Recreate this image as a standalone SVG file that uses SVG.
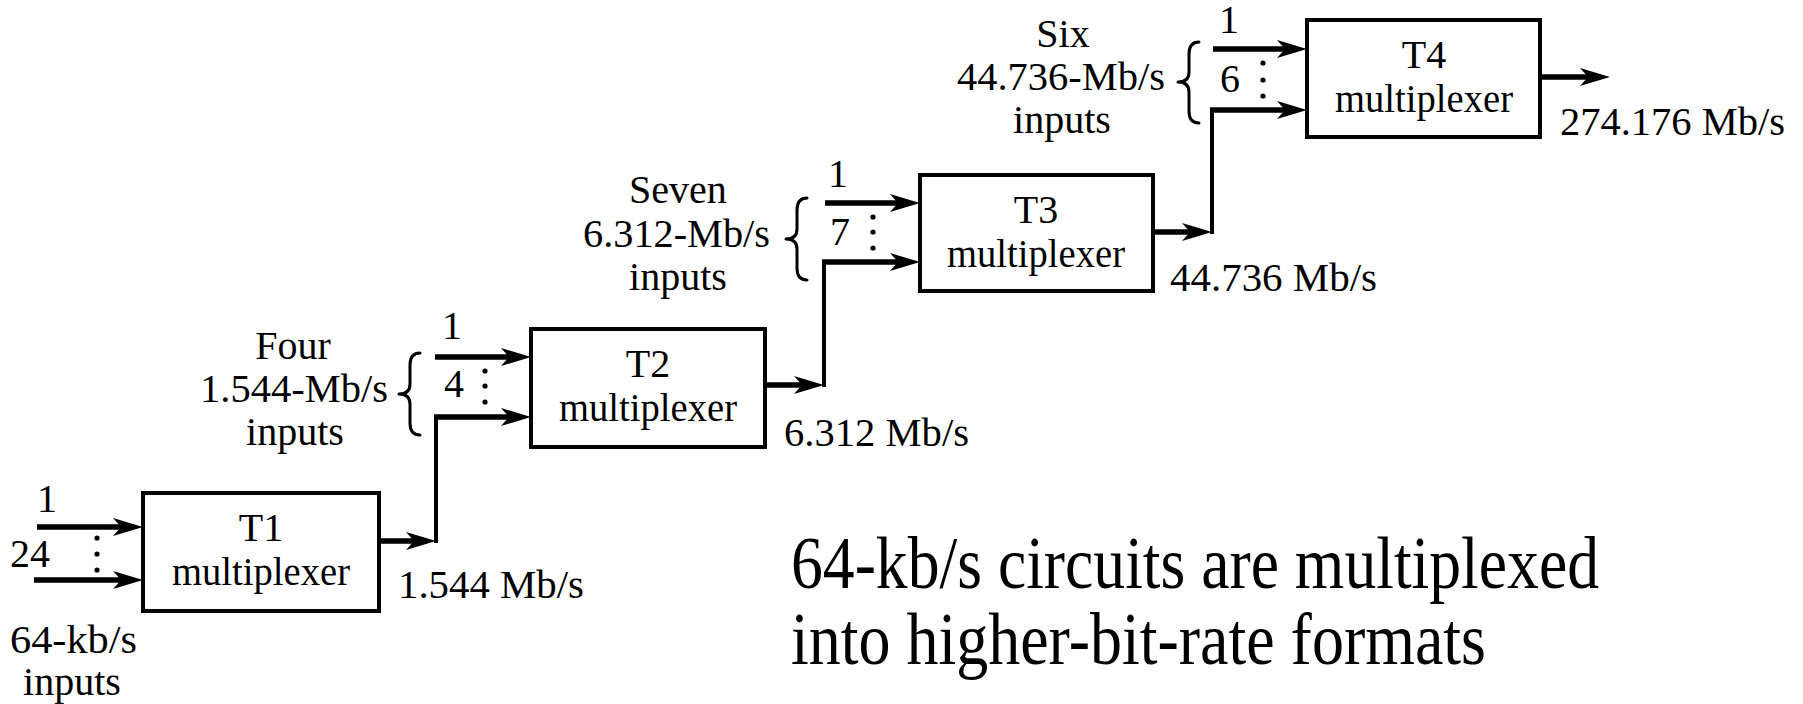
<svg xmlns="http://www.w3.org/2000/svg" width="1803" height="704" viewBox="0 0 1803 704">
<style>
text{font-family:"Liberation Serif","Times New Roman",serif;fill:#000;}
.lbl{font-size:40px;}
.mid{text-anchor:middle;}
.big{font-size:74px;}
.box{fill:#fff;stroke:#000;stroke-width:4;}
.shaft{fill:none;stroke:#000;stroke-width:5.5;marker-end:url(#ah);}
.wire{fill:none;stroke:#000;stroke-width:4;}
.brace{fill:none;stroke:#000;stroke-width:3;stroke-linecap:round;stroke-linejoin:round;}
.dot{fill:#000;}
</style>
<defs>
<marker id="ah" markerUnits="userSpaceOnUse" viewBox="0 0 30 20" refX="15" refY="10" markerWidth="30" markerHeight="20" orient="auto">
<path d="M0,1 L30,10 L0,19 L8,10 Z" fill="#000"/>
</marker>
</defs>
<rect width="1803" height="704" fill="#fff"/>

<g id="connectors">
<line class="shaft" x1="37" y1="527" x2="128" y2="527"/>
<line class="shaft" x1="34" y1="580" x2="128" y2="580"/>
<line class="shaft" x1="379" y1="541" x2="421" y2="541"/>
<polyline class="wire" points="436,543 436,417 440,417"/>
<line class="shaft" x1="434" y1="417" x2="516" y2="417"/>
<line class="shaft" x1="435" y1="357" x2="516" y2="357"/>
<line class="shaft" x1="765" y1="385" x2="809" y2="385"/>
<polyline class="wire" points="824,387 824,262 828,262"/>
<line class="shaft" x1="822" y1="262" x2="905" y2="262"/>
<line class="shaft" x1="825" y1="203" x2="905" y2="203"/>
<line class="shaft" x1="1153" y1="232" x2="1197" y2="232"/>
<polyline class="wire" points="1212,234 1212,110 1216,110"/>
<line class="shaft" x1="1210" y1="110" x2="1292" y2="110"/>
<line class="shaft" x1="1213" y1="49" x2="1292" y2="49"/>
<line class="shaft" x1="1540" y1="77" x2="1595" y2="77"/>
</g>

<g id="T1">
<rect class="box" x="143" y="493" width="236" height="118"/>
<text class="lbl mid" x="261" y="541">T1</text>
<text class="lbl mid" x="261" y="585" textLength="178" lengthAdjust="spacingAndGlyphs">multiplexer</text>
</g>
<g id="T2">
<rect class="box" x="531" y="329" width="234" height="118"/>
<text class="lbl mid" x="648" y="377">T2</text>
<text class="lbl mid" x="648" y="421" textLength="178" lengthAdjust="spacingAndGlyphs">multiplexer</text>
</g>
<g id="T3">
<rect class="box" x="920" y="175" width="233" height="116"/>
<text class="lbl mid" x="1036" y="223">T3</text>
<text class="lbl mid" x="1036" y="267" textLength="178" lengthAdjust="spacingAndGlyphs">multiplexer</text>
</g>
<g id="T4">
<rect class="box" x="1307" y="20" width="233" height="117"/>
<text class="lbl mid" x="1424" y="68">T4</text>
<text class="lbl mid" x="1424" y="112" textLength="178" lengthAdjust="spacingAndGlyphs">multiplexer</text>
</g>

<g id="T1-inputs">
<text class="lbl mid" x="47" y="512">1</text>
<text class="lbl mid" x="30" y="567">24</text>
<circle class="dot" cx="97" cy="538" r="2.6"/>
<circle class="dot" cx="97" cy="554" r="2.6"/>
<circle class="dot" cx="97" cy="570" r="2.6"/>
<text class="lbl" x="10" y="653" textLength="127" lengthAdjust="spacingAndGlyphs">64-kb/s</text>
<text class="lbl mid" x="72" y="695">inputs</text>
</g>
<g id="T1-output">
<text class="lbl" x="398" y="598" textLength="186" lengthAdjust="spacingAndGlyphs">1.544 Mb/s</text>
</g>

<g id="T2-inputs">
<text class="lbl mid" x="452" y="339">1</text>
<text class="lbl mid" x="454" y="397">4</text>
<circle class="dot" cx="485" cy="371" r="2.6"/>
<circle class="dot" cx="485" cy="386" r="2.6"/>
<circle class="dot" cx="485" cy="402" r="2.6"/>
<path class="brace" d="M420,353 Q410,353 410,365 L410,384 Q410,394 399,394 Q410,394 410,404 L410,423 Q410,435 420,435"/>
<text class="lbl mid" x="293" y="359">Four</text>
<text class="lbl" x="200" y="402" textLength="188" lengthAdjust="spacingAndGlyphs">1.544-Mb/s</text>
<text class="lbl mid" x="295" y="445">inputs</text>
</g>
<g id="T2-output">
<text class="lbl" x="784" y="446" textLength="185" lengthAdjust="spacingAndGlyphs">6.312 Mb/s</text>
</g>

<g id="T3-inputs">
<text class="lbl mid" x="838" y="187">1</text>
<text class="lbl mid" x="840" y="245">7</text>
<circle class="dot" cx="873" cy="217" r="2.6"/>
<circle class="dot" cx="873" cy="232" r="2.6"/>
<circle class="dot" cx="873" cy="248" r="2.6"/>
<path class="brace" d="M807,198 Q797,198 797,210 L797,229 Q797,239 786,239 Q797,239 797,249 L797,268 Q797,280 807,280"/>
<text class="lbl mid" x="678" y="203">Seven</text>
<text class="lbl" x="583" y="247" textLength="187" lengthAdjust="spacingAndGlyphs">6.312-Mb/s</text>
<text class="lbl mid" x="678" y="290">inputs</text>
</g>
<g id="T3-output">
<text class="lbl" x="1170" y="291" textLength="207" lengthAdjust="spacingAndGlyphs">44.736 Mb/s</text>
</g>

<g id="T4-inputs">
<text class="lbl mid" x="1229" y="33">1</text>
<text class="lbl mid" x="1230" y="92">6</text>
<circle class="dot" cx="1263" cy="63" r="2.6"/>
<circle class="dot" cx="1263" cy="80" r="2.6"/>
<circle class="dot" cx="1263" cy="96" r="2.6"/>
<path class="brace" d="M1199,42 Q1189,42 1189,54 L1189,72 Q1189,82 1178,82 Q1189,82 1189,92 L1189,111 Q1189,123 1199,123"/>
<text class="lbl mid" x="1063" y="47">Six</text>
<text class="lbl" x="957" y="90" textLength="208" lengthAdjust="spacingAndGlyphs">44.736-Mb/s</text>
<text class="lbl mid" x="1062" y="133">inputs</text>
</g>
<g id="T4-output">
<text class="lbl" x="1560" y="135" textLength="225" lengthAdjust="spacingAndGlyphs">274.176 Mb/s</text>
</g>

<g id="caption">
<text class="big" x="791" y="588" textLength="808" lengthAdjust="spacingAndGlyphs">64-kb/s circuits are multiplexed</text>
<text class="big" x="791" y="664" textLength="695" lengthAdjust="spacingAndGlyphs">into higher-bit-rate formats</text>
</g>
</svg>
